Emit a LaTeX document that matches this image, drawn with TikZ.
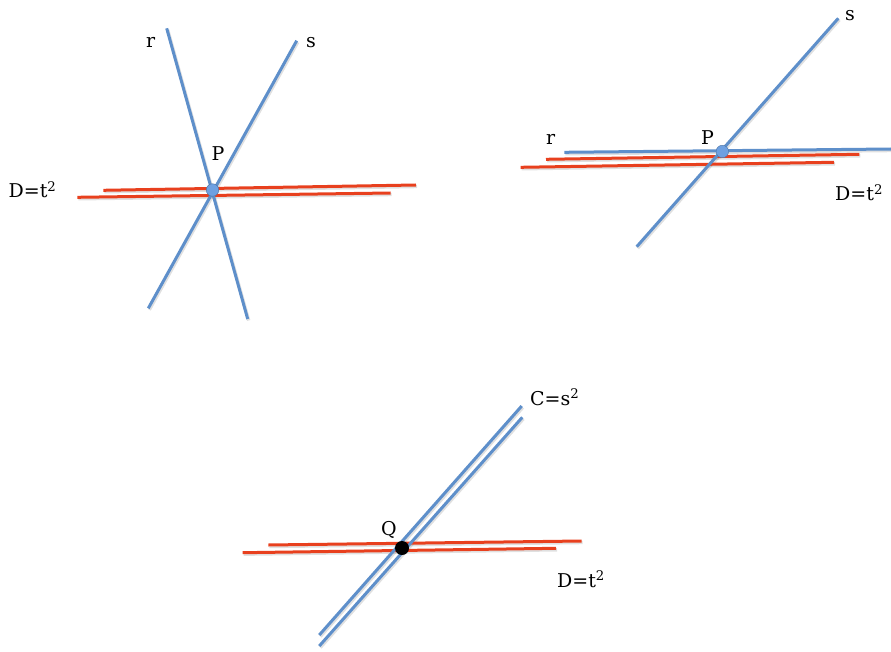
\documentclass[tikz,border=0pt]{standalone}
\usepackage{fontspec}
\setmainfont{DejaVu Serif}
\definecolor{lblue}{RGB}{94,143,202}
\definecolor{lred}{RGB}{232,64,30}
\definecolor{dotblue}{RGB}{110,160,225}
\begin{document}
\begin{tikzpicture}[x=1pt,y=-1pt,
  shad/.style={draw=black,opacity=0.12,line width=3.4pt,transform canvas={xshift=1pt,yshift=-1.5pt}},
  bline/.style={draw=lblue,line width=3pt},
  rline/.style={draw=lred,line width=3pt},
  lab/.style={inner sep=0pt,anchor=base west,font=\fontsize{19}{23}\selectfont},
  pdot/.style={circle,fill=dotblue,draw=lblue!80!black,line width=0.4pt,minimum size=12.5pt,inner sep=0pt},
  qdot/.style={circle,fill=black,minimum size=14pt,inner sep=0pt}]
\useasboundingbox (0,0) rectangle (891,652);
% ---------- top left ----------
\coordinate (r1a) at (166.7,28.3);
\coordinate (r1b) at (247.7,319);
\coordinate (s1a) at (296.7,40.7);
\coordinate (s1b) at (148.3,308.3);
\coordinate (d1a) at (103.3,190.3);
\coordinate (d1b) at (416,185);
\coordinate (d2a) at (77.3,197.3);
\coordinate (d2b) at (390.7,193);
\draw[shad] (d1a) -- (d1b);
\draw[shad] (d2a) -- (d2b);
\draw[shad] (r1a) -- (r1b);
\draw[shad] (s1a) -- (s1b);
\draw[rline] (d1a) -- (d1b);
\draw[rline] (d2a) -- (d2b);
\draw[bline] (r1a) -- (r1b);
\draw[bline] (s1a) -- (s1b);
\node[pdot] (P1) at (212.5,190) {};
\node[lab] (lr1) at (146,48) {r};
\node[lab] (ls1) at (306,48) {s};
\node[lab] (lP1) at (211.5,161) {P};
\node[lab] (lD1) at (8.5,198) {D=t\textsuperscript{2}};
% ---------- top right ----------
\coordinate (s2a) at (838.3,18.3);
\coordinate (s2b) at (636.7,246.7);
\coordinate (r2a) at (564.3,152.3);
\coordinate (r2b) at (891,149);
\coordinate (e1a) at (546,159.3);
\coordinate (e1b) at (859.3,154.3);
\coordinate (e2a) at (520.7,167.3);
\coordinate (e2b) at (834,162.3);
\draw[shad] (e1a) -- (e1b);
\draw[shad] (e2a) -- (e2b);
\draw[shad] (r2a) -- (r2b);
\draw[shad] (s2a) -- (s2b);
\draw[rline] (e1a) -- (e1b);
\draw[rline] (e2a) -- (e2b);
\draw[bline] (r2a) -- (r2b);
\draw[bline] (s2a) -- (s2b);
\node[pdot] (P2) at (722.3,151.5) {};
\node[lab] (lr2) at (546,145) {r};
\node[lab] (lP2) at (701,145) {P};
\node[lab] (ls2) at (845,21) {s};
\node[lab] (lD2) at (835,201) {D=t\textsuperscript{2}};
% ---------- bottom ----------
\coordinate (c1a) at (521.7,406);
\coordinate (c1b) at (319.3,635);
\coordinate (c2a) at (522.3,417.3);
\coordinate (c2b) at (319.3,646);
\coordinate (f1a) at (268.3,545);
\coordinate (f1b) at (581.7,541);
\coordinate (f2a) at (242.7,552.7);
\coordinate (f2b) at (556,548.3);
\draw[shad] (f1a) -- (f1b);
\draw[shad] (f2a) -- (f2b);
\draw[shad] (c1a) -- (c1b);
\draw[shad] (c2a) -- (c2b);
\draw[rline] (f1a) -- (f1b);
\draw[rline] (f2a) -- (f2b);
\draw[bline] (c1a) -- (c1b);
\draw[bline] (c2a) -- (c2b);
\node[qdot] (Q) at (402,548) {};
\node[lab] (lQ) at (381,535) {Q};
\node[lab] (lC) at (530,405) {C=s\textsuperscript{2}};
\node[lab] (lD3) at (557,587) {D=t\textsuperscript{2}};
\end{tikzpicture}
\end{document}
